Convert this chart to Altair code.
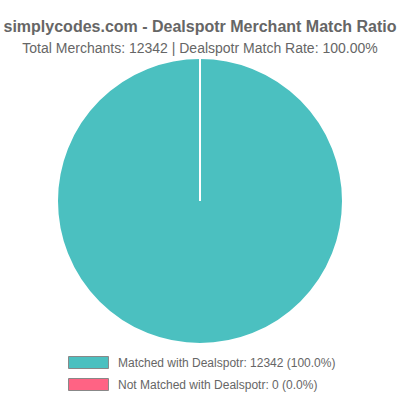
import altair as alt
import pandas as pd

categories = ["Matched with Dealspotr", "Not Matched with Dealspotr"]
counts = [12342, 0]
colors = ["#4BC0C0", "#FF6384"]
title_text = "simplycodes.com - Dealspotr Merchant Match Ratio"

total = sum(counts)
labels = [f"{c}: {v} ({v / total * 100:.1f}%)" for c, v in zip(categories, counts)]
subtitle_text = f"Total Merchants: {total} | Dealspotr Match Rate: {counts[0] / total * 100:.2f}%"
df = pd.DataFrame({"label": labels, "count": counts, "order": list(range(len(labels)))})

FONT = "Liberation Sans"

chart = (
    alt.Chart(df)
    .mark_arc(outerRadius=143, stroke="white", strokeWidth=2)
    .encode(
        theta=alt.Theta("count:Q", stack=True),
        color=alt.Color(
            "label:N",
            scale=alt.Scale(domain=labels, range=colors),
            legend=alt.Legend(
                orient="none",
                legendX=82,
                legendY=298,
                direction="vertical",
                title=None,
                symbolType="M-3.33,-1H3.33V1H-3.33Z",
                symbolSize=144,
                symbolStrokeColor="#888",
                symbolStrokeWidth=1,
                symbolOpacity=1,
                labelFont=FONT,
                labelFontSize=12,
                labelColor="#666",
                labelOffset=23,
                labelLimit=0,
                rowPadding=5,
                padding=0,
            ),
        ),
        order=alt.Order("order:Q"),
    )
    .properties(
        width=400,
        height=286,
        autosize="none",
        padding={"left": 0, "right": 0, "top": 58, "bottom": 56},
        title=alt.Title(
            text=title_text,
            subtitle=subtitle_text,
            anchor="middle",
            font=FONT,
            fontSize=16,
            fontWeight="bold",
            color="#666",
            subtitleFont=FONT,
            subtitleFontSize=14,
            subtitleColor="#666",
            subtitlePadding=7,
            offset=-2,
        ),
    )
    .configure_view(stroke=None)
)

chart.save("out.html", embed_options={"renderer": "svg", "actions": False})
